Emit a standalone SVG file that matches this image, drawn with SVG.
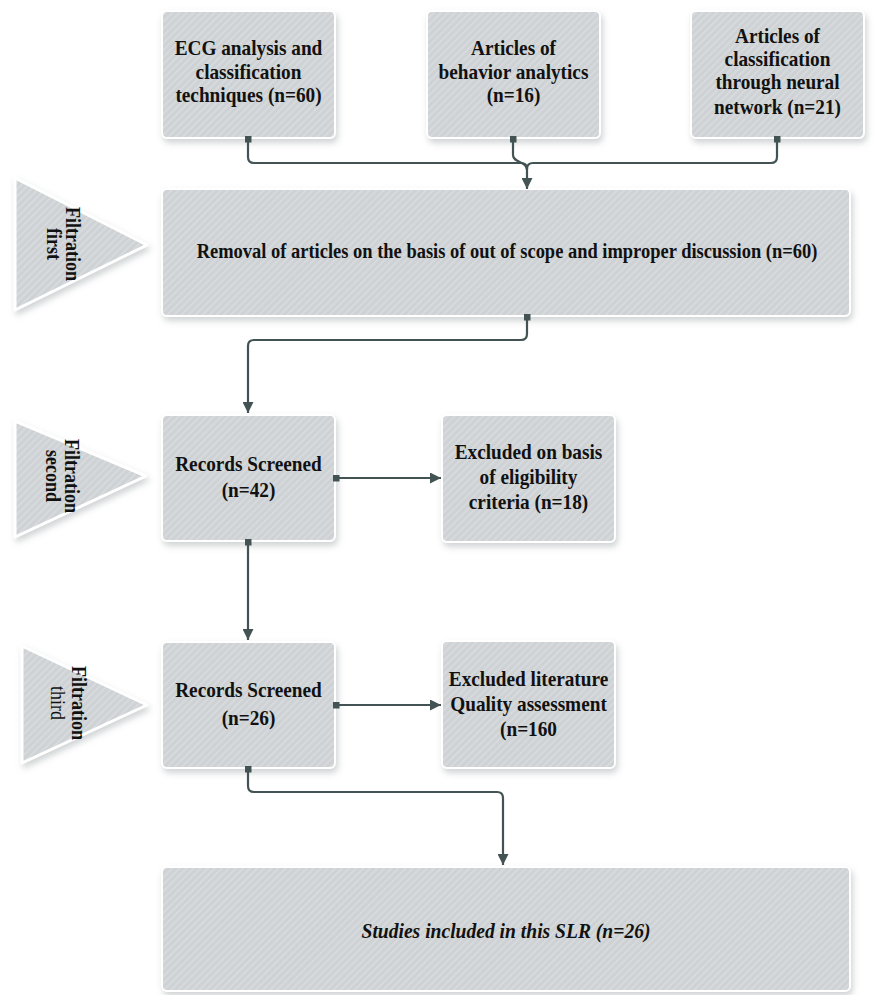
<svg xmlns="http://www.w3.org/2000/svg" width="887" height="995" viewBox="0 0 887 995">
  <defs>
    <!-- diagonal hatch used as the fill of every shape -->
    <pattern id="hatch" width="5" height="5" patternUnits="userSpaceOnUse" patternTransform="rotate(45)">
      <rect width="5" height="5" fill="#ced2d4"/>
      <rect width="1.6" height="5" fill="#d9dcde"/>
    </pattern>
    <filter id="shadow" x="-10%" y="-10%" width="125%" height="130%">
      <feDropShadow dx="2" dy="4" stdDeviation="3" flood-color="#8a9396" flood-opacity="0.4"/>
    </filter>
    <marker id="arrow" viewBox="0 0 10 10" refX="10" refY="5" markerWidth="11" markerHeight="11" markerUnits="userSpaceOnUse" orient="auto">
      <path d="M0,0 L10,5 L0,10 Z" fill="#435353"/>
    </marker>
    <marker id="dot" viewBox="0 0 8 8" refX="4" refY="4" markerWidth="7" markerHeight="7" markerUnits="userSpaceOnUse" orient="auto">
      <rect width="8" height="8" fill="#435353"/>
    </marker>
  </defs>
  <style>
    .box { fill: url(#hatch); stroke: #ffffff; stroke-width: 2; filter: url(#shadow); }
    .tri { fill: url(#hatch); stroke: #ffffff; stroke-width: 3; stroke-linejoin: round; filter: url(#shadow); }
    .t { font-family: "Liberation Serif", "Times New Roman", serif; font-weight: bold; font-size: 22px; fill: #111111; text-anchor: middle; }
    .r { font-weight: normal; }
    .i { font-style: italic; }
    .conn { fill: none; stroke: #435353; stroke-width: 2.2; }
  </style>
  <rect width="887" height="995" fill="#ffffff"/>

  <!-- stage markers -->
  <g id="stage-first">
    <path class="tri" d="M15,178 L147,245 L15,310 Z"/>
    <g transform="translate(66,244) rotate(90) scale(0.82 1)">
      <text class="t" x="0" y="0">Filtration</text>
      <text class="t" x="0" y="19">first</text>
    </g>
  </g>
  <g id="stage-second">
    <path class="tri" d="M15,421 L146,476 L15,537 Z"/>
    <g transform="translate(65,476) rotate(90) scale(0.82 1)">
      <text class="t" x="0" y="0">Filtration</text>
      <text class="t" x="0" y="19">second</text>
    </g>
  </g>
  <g id="stage-third">
    <path class="tri" d="M22,646 L147,705 L22,763 Z"/>
    <g transform="translate(72,703) rotate(90) scale(0.82 1)">
      <text class="t" x="0" y="0">Filtration</text>
      <text class="t r" x="0" y="21">third</text>
    </g>
  </g>

  <!-- sources -->
  <g id="ecg">
    <rect class="box" x="162" y="11" width="173" height="127" rx="5"/>
    <g transform="translate(248.5,0) scale(0.875 1)">
      <text class="t" x="0" y="55">ECG analysis and</text>
      <text class="t" x="0" y="79">classification</text>
      <text class="t" x="0" y="102">techniques (n=60)</text>
    </g>
  </g>
  <g id="behavior">
    <rect class="box" x="427" y="11" width="173" height="127" rx="5"/>
    <g transform="translate(513.5,0) scale(0.875 1)">
      <text class="t" x="0" y="55">Articles of</text>
      <text class="t" x="0" y="79">behavior analytics</text>
      <text class="t" x="0" y="102">(n=16)</text>
    </g>
  </g>
  <g id="neural">
    <rect class="box" x="691" y="11" width="173" height="127" rx="5"/>
    <g transform="translate(777.5,0) scale(0.875 1)">
      <text class="t" x="0" y="43">Articles of</text>
      <text class="t" x="0" y="66">classification</text>
      <text class="t" x="0" y="89">through neural</text>
      <text class="t" x="0" y="114">network (n=21)</text>
    </g>
  </g>

  <!-- first filtration -->
  <g id="removal">
    <rect class="box" x="162" y="189" width="688" height="127" rx="5"/>
    <g transform="translate(507,0) scale(0.84 1)">
      <text class="t" x="0" y="258">Removal of articles on the basis of out of scope and improper discussion (n=60)</text>
    </g>
  </g>

  <!-- second filtration -->
  <g id="screened-42">
    <rect class="box" x="162" y="415" width="173" height="126" rx="5"/>
    <g transform="translate(248.5,0) scale(0.875 1)">
      <text class="t" x="0" y="471">Records Screened</text>
      <text class="t" x="0" y="497">(n=42)</text>
    </g>
  </g>
  <g id="excluded-18">
    <rect class="box" x="442" y="415" width="173" height="127" rx="5"/>
    <g transform="translate(528.5,0) scale(0.875 1)">
      <text class="t" x="0" y="459">Excluded on basis</text>
      <text class="t" x="0" y="484">of eligibility</text>
      <text class="t" x="0" y="509">criteria (n=18)</text>
    </g>
  </g>

  <!-- third filtration -->
  <g id="screened-26">
    <rect class="box" x="162" y="642" width="173" height="126" rx="5"/>
    <g transform="translate(248.5,0) scale(0.875 1)">
      <text class="t" x="0" y="697">Records Screened</text>
      <text class="t" x="0" y="725">(n=26)</text>
    </g>
  </g>
  <g id="excluded-160">
    <rect class="box" x="442" y="641" width="173" height="127" rx="5"/>
    <g transform="translate(528.5,0) scale(0.875 1)">
      <text class="t" x="0" y="686">Excluded literature</text>
      <text class="t" x="0" y="711">Quality assessment</text>
      <text class="t" x="0" y="736">(n=160</text>
    </g>
  </g>

  <!-- result -->
  <g id="included">
    <rect class="box" x="162" y="867" width="688" height="124" rx="5"/>
    <g transform="translate(506,0) scale(0.89 1)">
      <text class="t i" x="0" y="938">Studies included in this SLR (n=26)</text>
    </g>
  </g>

  <!-- connectors -->
  <g id="connectors">
    <path class="conn" marker-start="url(#dot)" d="M248,139 V157 Q248,163 254,163 H521 Q527,163 527,169"/>
    <path class="conn" marker-start="url(#dot)" d="M777,139 V157 Q777,163 771,163 H533 Q527,163 527,169"/>
    <path class="conn" marker-start="url(#dot)" d="M513,139 V155 C513,163 527,161 527,170"/>
    <path class="conn" marker-end="url(#arrow)" d="M527,168 V189"/>
    <path class="conn" marker-start="url(#dot)" marker-end="url(#arrow)" d="M527,317 V334 Q527,340 521,340 H254 Q248,340 248,346 V413"/>
    <path class="conn" marker-start="url(#dot)" marker-end="url(#arrow)" d="M336,478 H441"/>
    <path class="conn" marker-start="url(#dot)" marker-end="url(#arrow)" d="M248,542 V640"/>
    <path class="conn" marker-start="url(#dot)" marker-end="url(#arrow)" d="M336,705 H441"/>
    <path class="conn" marker-start="url(#dot)" marker-end="url(#arrow)" d="M248,769 V786 Q248,792 254,792 H497 Q503,792 503,798 V865"/>
  </g>
</svg>
